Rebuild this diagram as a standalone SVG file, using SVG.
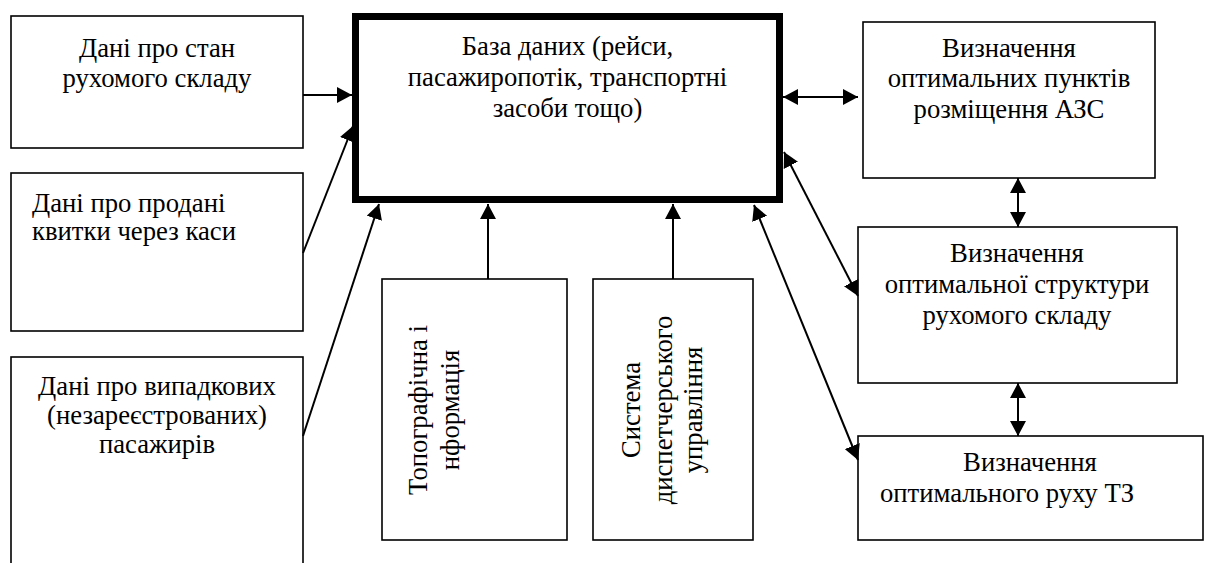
<svg xmlns="http://www.w3.org/2000/svg" width="1205" height="563" viewBox="0 0 1205 563">
<style>
  .box { fill: #fff; stroke: #000; stroke-width: 1.6; }
  .db { fill: #fff; stroke: #000; stroke-width: 7; }
  text { font-family: 'Liberation Serif', 'Times New Roman', serif; font-size: 26.7px; fill: #000; }
  .c { text-anchor: middle; }
  .conn line { stroke: #000; stroke-width: 2; }
</style>
<defs>
  <marker id="ah" markerUnits="userSpaceOnUse" markerWidth="16" markerHeight="16" viewBox="0 0 16 16" refX="15" refY="8" orient="auto-start-reverse">
    <path d="M0,0 L15,8 L0,16 Z" fill="#000"/>
  </marker>
</defs>
<rect width="1205" height="563" fill="#fff"/>

<g id="n-stan">
  <rect class="box" x="11" y="16" width="292" height="132"/>
  <text class="c" x="157" y="57">Дані про стан</text>
  <text class="c" x="157" y="87">рухомого складу</text>
</g>
<g id="n-kvytky">
  <rect class="box" x="11" y="173" width="292" height="158"/>
  <text x="32" y="212">Дані про продані</text>
  <text x="32" y="240">квитки через каси</text>
</g>
<g id="n-vypadkovi">
  <rect class="box" x="11" y="357" width="292" height="230"/>
  <text class="c" x="157" y="395">Дані про випадкових</text>
  <text class="c" x="157" y="424">(незареєстрованих)</text>
  <text class="c" x="157" y="453">пасажирів</text>
</g>
<g id="n-db">
  <rect class="db" x="355.5" y="16.5" width="424" height="183"/>
  <text class="c" x="567.5" y="55">База даних (рейси,</text>
  <text class="c" x="567.5" y="86">пасажиропотік, транспортні</text>
  <text class="c" x="567.5" y="117">засоби тощо)</text>
</g>
<g id="n-topo">
  <rect class="box" x="382" y="279" width="185" height="261"/>
  <text class="c" transform="translate(427,410) rotate(-90)">Топографічна і</text>
  <text class="c" transform="translate(459,410) rotate(-90)">нформація</text>
</g>
<g id="n-dysp">
  <rect class="box" x="593" y="279" width="160" height="261"/>
  <text class="c" transform="translate(640,410) rotate(-90)">Система</text>
  <text class="c" transform="translate(672,410) rotate(-90)">диспетчерського</text>
  <text class="c" transform="translate(702,410) rotate(-90)">управління</text>
</g>
<g id="n-azs">
  <rect class="box" x="863" y="22" width="292" height="156"/>
  <text class="c" x="1009" y="57">Визначення</text>
  <text class="c" x="1009" y="87">оптимальних пунктів</text>
  <text class="c" x="1009" y="118">розміщення АЗС</text>
</g>
<g id="n-struktura">
  <rect class="box" x="858" y="227" width="319" height="156"/>
  <text class="c" x="1017" y="262">Визначення</text>
  <text class="c" x="1017" y="293">оптимальної структури</text>
  <text class="c" x="1017" y="324">рухомого складу</text>
</g>
<g id="n-rukh">
  <rect class="box" x="858" y="436" width="345" height="104"/>
  <text class="c" x="1030" y="471">Визначення</text>
  <text class="c" x="1007" y="502">оптимального руху ТЗ</text>
</g>

<g id="connectors" class="conn">
  <line x1="303" y1="95" x2="352" y2="95" marker-end="url(#ah)"/>
  <line x1="303" y1="253" x2="353" y2="126" marker-end="url(#ah)"/>
  <line x1="303" y1="436" x2="379" y2="204" marker-end="url(#ah)"/>
  <line x1="488" y1="279" x2="488" y2="204" marker-end="url(#ah)"/>
  <line x1="673" y1="279" x2="673" y2="204" marker-end="url(#ah)"/>
  <line x1="783" y1="97" x2="858" y2="97" marker-start="url(#ah)" marker-end="url(#ah)"/>
  <line x1="1018" y1="178" x2="1018" y2="227" marker-start="url(#ah)" marker-end="url(#ah)"/>
  <line x1="784" y1="152" x2="858" y2="296" marker-start="url(#ah)" marker-end="url(#ah)"/>
  <line x1="754" y1="205" x2="858" y2="460" marker-start="url(#ah)" marker-end="url(#ah)"/>
  <line x1="1018" y1="383" x2="1018" y2="436" marker-start="url(#ah)" marker-end="url(#ah)"/>
</g>
</svg>
